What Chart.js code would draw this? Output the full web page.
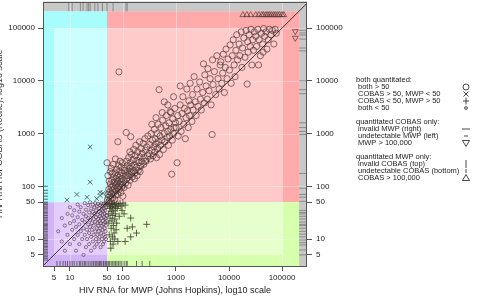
<!DOCTYPE html>
<html><head><meta charset="utf-8">
<script src="https://cdn.jsdelivr.net/npm/chart.js@4/dist/chart.umd.min.js"></script>
<style>html,body{margin:0;padding:0;background:#fff;overflow:hidden;width:479px;height:297px}canvas{display:block;position:absolute;left:0;top:-4px}</style>
</head><body>
<canvas id="c" width="479" height="301"></canvas>
<script>
// ---------- data ----------
const tickValues = [5, 10, 50, 100, 1000, 10000, 100000];

// both quantitated, both > 50   [MWP, COBAS]
const bothAbove50 = [
 [51,55],[52,70],[53,62],[54,88],[55,52],[56,78],[57,66],[58,110],[59,58],[60,95],[61,72],[62,130],[63,84],[64,60],[65,100],[66,150],[67,75],[68,120],[69,90],[70,56],[71,180],[72,105],[73,68],[74,140],[75,82],[76,210],[77,115],[78,95],[79,160],[80,70],[81,125],[82,250],[83,100],[84,14800],[85,190],[86,88],[87,135],[88,300],[89,110],[90,160],[91,76],[92,230],[93,120],[94,95],[95,180],[96,140],[97,280],[98,105],[99,65],[50,280],[52,160],[55,125],[58,190],[60,220],[63,175],[66,260],[72,330],[80,700],
 [102,130],[105,95],[108,220],[110,160],[112,115],[115,1050],[116,300],[118,140],[120,190],[122,250],[125,105],[128,350],[130,170],[132,220],[135,130],[138,280],[140,870],[142,190],[145,400],[148,240],[150,150],[155,320],[158,200],[160,500],[165,260],[170,180],[172,380],[175,600],[180,230],[185,310],[190,450],[195,200],[200,280],[205,700],[210,360],[215,240],[220,520],[225,300],[230,420],[240,650],[245,260],[250,350],[260,800],[265,480],[270,300],[280,560],[290,380],[295,900],[105,200],[125,160],[145,180],[165,140],[185,160],[210,190],[135,450],
 [310,420],[320,620],[330,330],[340,1000],[350,480],[360,750],[370,380],[380,560],[390,1200],[400,450],[410,800],[420,640],[430,350],[440,1000],[450,520],[460,1500],[470,700],[480,6800],[490,400],[500,900],[510,600],[520,1300],[540,750],[560,1800],[580,500],[600,1000],[620,700],[640,1400],[660,2200],[680,850],[700,1100],[720,600],[740,1600],[760,900],[780,2600],[800,1200],[830,170],[850,750],[870,1900],[900,1000],[920,1300],[950,3000],[980,1600],[700,3500],[900,5000],[600,4000],[800,2500],[350,1500],[420,2000],[550,2500],
 [1000,1300],[1050,280],[1080,2200],[1100,900],[1150,1700],[1200,3500],[1250,1100],[1300,2400],[1350,5000],[1400,1500],[1450,3000],[1500,800],[1550,2000],[1600,7000],[1650,2700],[1700,1300],[1750,4200],[1800,2200],[1850,9000],[1900,3500],[2000,1700],[2050,5500],[2100,2800],[2200,12000],[2300,4000],[2400,2200],[2500,7000],[2600,3300],[2800,9500],[2900,4500],[3000,2800],[1200,8000],
 [3200,6000],[3300,21000],[3400,3800],[3500,13000],[3700,8000],[3900,4500],[4000,17000],[4200,6500],[4400,11000],[4600,3500],[4800,960],[4900,25000],[5000,8500],[5300,15000],[5600,5500],[5900,30000],[6200,11000],[6500,7000],[6800,20000],[7000,23000],[7300,9000],[7600,14000],[7800,32000],[8200,6000],[8500,18000],[8800,40000],[9200,11000],[9600,26000],
 [10200,16000],[10500,48000],[11000,9000],[11500,30000],[12000,60000],[12500,20000],[13000,12000],[13500,38000],[14000,75000],[14500,25000],[15500,50000],[16000,30000],[17000,85000],[17500,18000],[18000,42000],[19000,65000],[20000,28000],[21000,90000],[22000,8700],[22500,55000],[23000,35000],[24000,75000],[25000,45000],[26000,95000],[27000,20000],[28000,60000],[29000,38000],[30000,85000],
 [32000,70000],[33000,45000],[35000,95000],[37000,60000],[39000,30000],[41000,80000],[43000,50000],[45000,98000],[47000,70000],[50000,85000],[52000,40000],[55000,60000],[58000,95000],[62000,75000],[66000,90000],[70000,50000],[74000,95000],[78000,80000],[36000,20000],[44000,35000]
];

// both quantitated, both < 50
const bothBelow50 = [
 [6,14],[7,25],[7,9],[8,18],[8,6],[9,30],[9,12],[10,20],[10,8],[10,40],[11,15],[11,28],[12,10],[12,22],[12,35],[13,6],[13,17],[14,45],[14,12],[14,26],[15,8],[15,19],[15,33],[16,14],[16,40],[17,23],[17,10],[18,5],[18,30],[18,16],[19,48],[19,12],[19,21],[20,7],[20,27],[20,36],[21,15],[21,10],[22,44],[22,19],[22,25],[23,8],[23,32],[23,13],[24,17],[24,50],[24,23],[25,11],[25,38],[25,6],[26,28],[26,15],[26,20],[27,45],[27,9],[27,33],[28,12],[28,24],[28,18],[29,40],[29,7],[29,30],[30,14],[30,21],[30,48],[31,10],[31,26],[31,35],[32,16],[32,8],[32,42],[33,20],[33,29],[33,12],[34,46],[34,18],[34,24],[35,9],[35,33],[35,14],[36,38],[36,22],[36,11],[37,27],[37,16],[37,44],[38,7],[38,31],[38,20],[39,13],[39,48],[39,25],[40,36],[40,18],[40,10],[41,29],[41,42],[41,15],[42,22],[42,8],[42,34],[43,47],[43,19],[43,12],[44,26],[44,38],[44,9],[45,16],[45,30],[45,44],[46,21],[46,11],[46,35],[47,25],[47,14],[47,49],[48,18],[48,40],[48,10],[49,28],[49,22],[49,45]
];

// COBAS > 50, MWP < 50
const cobasOnlyAbove = [[24,560],[24,120],[13.5,70],[21,62],[37,67],[42,74],[8.8,55],[32,58],[37,77]];

// COBAS < 50, MWP > 50
const mwpOnlyAbove = [
 [52,45],[53,30],[54,20],[55,48],[55,12],[56,38],[57,25],[58,9],[58,42],[59,6.7],[60,33],[60,16],[61,47],[62,22],[63,11],[63,40],[64,28],[65,8],[65,45],[66,18],[67,35],[68,13],[69,48],[70,24],[70,10],[72,41],[72,30],[74,15],[75,46],[76,20],[78,38],[80,9],[82,44],[85,27],[88,47],[92,42],[96,35],[100,48],[110,9],[110,44],[140,25],[150,17],[180,13],[140,11],[280,19],[120,16],[105,30]
];

// quantitated COBAS only: invalid MWP (right rug), undetectable MWP (left rug), MWP > 100,000
const invalidMwpCobas = [91000,81000,74000,62000,42000,37000,10000,6800,5700,1600,1300,1100,960,175,92,70,62,52,35,32,30,27,24,21,19,18,16,14,12.4,11,9.6,8.5,7.7,6.2,5.0];
const undetectMwpCobas = [100,84,74,65,57,50,48,45,42,39,37,34,32,30,28,26,25,23,22,20,19,18,17,16,15,14,13,12,11.4,10.5,10,9.4,8.8,8.2,7.7,7.2,6.8,6.3,5.9,5.5,5.2,4.8,4.6,4.3,4];
const mwpOver100kCobas = [87000, 65000];

// quantitated MWP only: invalid COBAS (top rug), undetectable COBAS (bottom rug), COBAS > 100,000
const invalidCobasMwp = [9.5,11,15.7,17.7,21,22.5,24,29.5,33.5,41,50,65,114,120];
const undetectCobasMwp = [5.7,6.5,7.4,8.2,9,10,11,12,13.5,15,16,17.5,19,20,22,24,26,28,30,32,34,36,38,40,43,46,48,50,53,56,60,64,68,72,77,82,88,95,105,115,120,180,230,320];
const cobasOver100kMwp = [18300,21700,25600,32000,36500,41600,45000,49900,54000,59000,64000,70000,76000,83000,90000,100000,108000];

const xTitle = 'HIV RNA for MWP (Johns Hopkins), log10 scale';
const yTitle = 'HIV RNA for COBAS (Roche), log10 scale';

// ---------- layout constants ----------
const X_MIN = 3.1, X_MAX = 296000, Y_MIN = 3.08, Y_MAX = 320000;
const LOQ = 50, LOW = 5, HIGH = 100000, INVALID = 210000;
const POS_RIGHT_RUG = 250000, POS_LEFT_RUG = 3.45, POS_TOP_RUG = 254000, POS_BOTTOM_RUG = 3.45, POS_OVER = 178000;
const SHIFT = 4; // canvas is shifted up by this many px

const pts = arr => arr.map(p => ({x: p[0], y: p[1]}));
const ink = 'rgba(84,60,60,0.9)';

Chart.defaults.font.family = '"Liberation Sans", Arial, Helvetica, sans-serif';
Chart.defaults.color = '#222';

const bgPlugin = {
  id: 'bg',
  beforeDatasetsDraw(chart) {
    const {ctx, chartArea: a} = chart;
    const xs = chart.scales.x, ys = chart.scales.y;
    const X = v => v === 'min' ? a.left : v === 'max' ? a.right : xs.getPixelForValue(v);
    const Y = v => v === 'min' ? a.bottom : v === 'max' ? a.top : ys.getPixelForValue(v);
    const rect = (x0, x1, y0, y1, c) => {
      ctx.fillStyle = c;
      const l = X(x0), r = X(x1), t = Y(y1), b = Y(y0);
      ctx.fillRect(l, t, r - l, b - t);
    };
    ctx.save();
    rect('min', LOQ, 'min', LOQ, '#d2b4f6');
    rect(LOW, LOQ, LOW, LOQ, '#e4cdfc');
    rect('min', LOQ, LOQ, INVALID, '#a9fcfc');
    rect(LOW, LOQ, LOQ, HIGH, '#ccffff');
    rect(LOQ, INVALID, LOQ, INVALID, '#ffabab');
    rect(LOQ, HIGH, LOQ, HIGH, '#ffcaca');
    rect(LOQ, INVALID, 'min', LOQ, '#d6ffae');
    rect(LOQ, HIGH, LOW, LOQ, '#e6ffcc');
    rect('min', 'max', INVALID, 'max', '#c8c8c8');
    rect(INVALID, 'max', 'min', 'max', '#c8c8c8');
    ctx.strokeStyle = 'rgba(255,255,255,0.35)';
    ctx.lineWidth = 1;
    [10, 100, 1000, 10000, 100000].forEach(v => {
      const px = Math.round(X(v)) + 0.5, py = Math.round(Y(v)) + 0.5;
      ctx.beginPath(); ctx.moveTo(px, a.top); ctx.lineTo(px, a.bottom); ctx.stroke();
      ctx.beginPath(); ctx.moveTo(a.left, py); ctx.lineTo(a.right, py); ctx.stroke();
    });
    ctx.restore();
  },
  afterDraw(chart) {
    const {ctx, chartArea: a} = chart;
    ctx.save();
    ctx.strokeStyle = '#555';
    ctx.lineWidth = 1;
    ctx.strokeRect(Math.round(a.left) + 0.5, Math.round(a.top) + 0.5, Math.round(a.right - a.left) - 1, Math.round(a.bottom - a.top) - 1);
    ctx.fillStyle = '#333';
    ctx.font = '9px "Liberation Sans", Arial, sans-serif';
    ctx.translate(1.5, (a.top + a.bottom) / 2);
    ctx.rotate(-Math.PI / 2);
    ctx.textAlign = 'center';
    ctx.textBaseline = 'alphabetic';
    ctx.fillText(yTitle, 0, 0);
    ctx.restore();
    drawLegend(ctx);
  }
};

const legendGroups = [
  ['both quantitated:', [['both > 50', 'circle'], ['COBAS > 50, MWP < 50', 'crossRot'], ['COBAS < 50, MWP > 50', 'cross'], ['both < 50', 'small']]],
  ['quantitated COBAS only:', [['invalid MWP (right)', 'hline'], ['undetectable MWP (left)', 'hshort'], ['MWP > 100,000', 'tridown']]],
  ['quantitated MWP only:', [['invalid COBAS (top)', 'vline'], ['undetectable COBAS (bottom)', 'vshort'], ['COBAS > 100,000', 'triup']]]
];

function sym(ctx, kind, x, y) {
  ctx.save(); ctx.strokeStyle = '#333'; ctx.lineWidth = 0.9; ctx.beginPath();
  switch (kind) {
    case 'circle': ctx.arc(x, y, 3, 0, 2 * Math.PI); break;
    case 'small': ctx.arc(x, y, 1.4, 0, 2 * Math.PI); break;
    case 'crossRot': ctx.moveTo(x - 2.5, y - 2.5); ctx.lineTo(x + 2.5, y + 2.5); ctx.moveTo(x + 2.5, y - 2.5); ctx.lineTo(x - 2.5, y + 2.5); break;
    case 'cross': ctx.moveTo(x - 3, y); ctx.lineTo(x + 3, y); ctx.moveTo(x, y - 3.5); ctx.lineTo(x, y + 3.5); break;
    case 'hline': ctx.moveTo(x - 4, y); ctx.lineTo(x + 4, y); break;
    case 'hshort': ctx.moveTo(x - 2, y); ctx.lineTo(x + 2, y); break;
    case 'tridown': ctx.moveTo(x - 3.5, y - 2.5); ctx.lineTo(x + 3.5, y - 2.5); ctx.lineTo(x, y + 3.5); ctx.closePath(); break;
    case 'vline': ctx.moveTo(x, y - 4); ctx.lineTo(x, y + 4); break;
    case 'vshort': ctx.moveTo(x, y - 2); ctx.lineTo(x, y + 2); break;
    case 'triup': ctx.moveTo(x - 3.5, y + 2.5); ctx.lineTo(x + 3.5, y + 2.5); ctx.lineTo(x, y - 3.5); ctx.closePath(); break;
  }
  ctx.stroke(); ctx.restore();
}

function drawLegend(ctx) {
  ctx.save();
  ctx.font = '7.5px "Liberation Sans", Arial, sans-serif';
  ctx.fillStyle = '#222';
  ctx.textBaseline = 'middle';
  ctx.textAlign = 'left';
  let y = 80 + SHIFT;
  legendGroups.forEach(([title, items]) => {
    ctx.fillText(title, 356, y);
    y += 7;
    items.forEach(([label, kind]) => {
      ctx.fillText(label, 358, y);
      sym(ctx, kind, 466, y);
      y += 7;
    });
    y += 7;
  });
  ctx.restore();
}

const commonTicks = {autoSkip: false, maxRotation: 0, font: {size: 8}, color: '#222', callback: v => String(v)};
const setTicks = a => { a.ticks = tickValues.map(v => ({value: v})); };
const tickGrid = {drawOnChartArea: false, tickLength: 5, color: '#555'};
const noPad = s => { s.paddingTop = 0; s.paddingBottom = 0; s.paddingLeft = 0; s.paddingRight = 0; };

new Chart(document.getElementById('c'), {
  type: 'scatter',
  data: {
    datasets: [
      {type: 'line', data: [{x: X_MIN, y: X_MIN}, {x: Y_MAX, y: Y_MAX}], borderColor: '#111', borderWidth: 0.8, pointRadius: 0, order: 0},
      {data: pts(bothAbove50), pointStyle: 'circle', pointRadius: 3.1, borderColor: ink, backgroundColor: 'transparent', borderWidth: 0.8},
      {data: pts(bothBelow50), pointStyle: 'circle', pointRadius: 1.6, borderColor: ink, backgroundColor: 'transparent', borderWidth: 0.7},
      {data: pts(cobasOnlyAbove), pointStyle: 'crossRot', pointRadius: 3.2, borderColor: '#3a4a4a', borderWidth: 0.8},
      {data: pts(mwpOnlyAbove), pointStyle: 'cross', pointRadius: 3.4, borderColor: '#3a3a2a', borderWidth: 0.8},
      {data: invalidMwpCobas.map(v => ({x: POS_RIGHT_RUG, y: v})), pointStyle: 'line', pointRadius: 4, borderColor: '#8a8a8a', borderWidth: 1},
      {data: undetectMwpCobas.map(v => ({x: POS_LEFT_RUG, y: v})), pointStyle: 'line', pointRadius: 2.5, borderColor: '#444', borderWidth: 0.8},
      {data: mwpOver100kCobas.map(v => ({x: POS_OVER, y: v})), pointStyle: 'triangle', pointRotation: 180, pointRadius: 3.4, borderColor: ink, backgroundColor: 'transparent', borderWidth: 0.8},
      {data: invalidCobasMwp.map(v => ({x: v, y: POS_TOP_RUG})), pointStyle: 'line', pointRotation: 90, pointRadius: 4.5, borderColor: '#8a8a8a', borderWidth: 1},
      {data: undetectCobasMwp.map(v => ({x: v, y: POS_BOTTOM_RUG})), pointStyle: 'line', pointRotation: 90, pointRadius: 2.5, borderColor: '#444', borderWidth: 0.8},
      {data: cobasOver100kMwp.map(v => ({x: v, y: POS_OVER})), pointStyle: 'triangle', pointRadius: 3.4, borderColor: ink, backgroundColor: 'transparent', borderWidth: 0.8}
    ]
  },
  options: {
    responsive: false, devicePixelRatio: 1, animation: false,
    layout: {padding: {top: 1, left: 0, right: 0, bottom: 0}},
    plugins: {legend: {display: false}, tooltip: {enabled: false}},
    scales: {
      x: {type: 'logarithmic', position: 'bottom', min: X_MIN, max: X_MAX,
          afterBuildTicks: setTicks, afterFit: s => { s.height = 31; noPad(s); },
          ticks: {...commonTicks, padding: 2}, grid: tickGrid, border: {display: false},
          title: {display: true, text: xTitle, font: {size: 9}, color: '#222', padding: {top: 0, bottom: 1}}},
      y: {type: 'logarithmic', position: 'left', min: Y_MIN, max: Y_MAX,
          afterBuildTicks: setTicks, afterFit: s => { s.width = 43; noPad(s); },
          ticks: {...commonTicks, padding: 3}, grid: tickGrid, border: {display: false}},
      y2: {type: 'logarithmic', position: 'right', min: Y_MIN, max: Y_MAX,
          afterBuildTicks: setTicks, afterFit: s => { s.width = 172; noPad(s); },
          ticks: {...commonTicks, padding: 4}, grid: tickGrid, border: {display: false}}
    }
  },
  plugins: [bgPlugin]
});
</script>
</body></html>
